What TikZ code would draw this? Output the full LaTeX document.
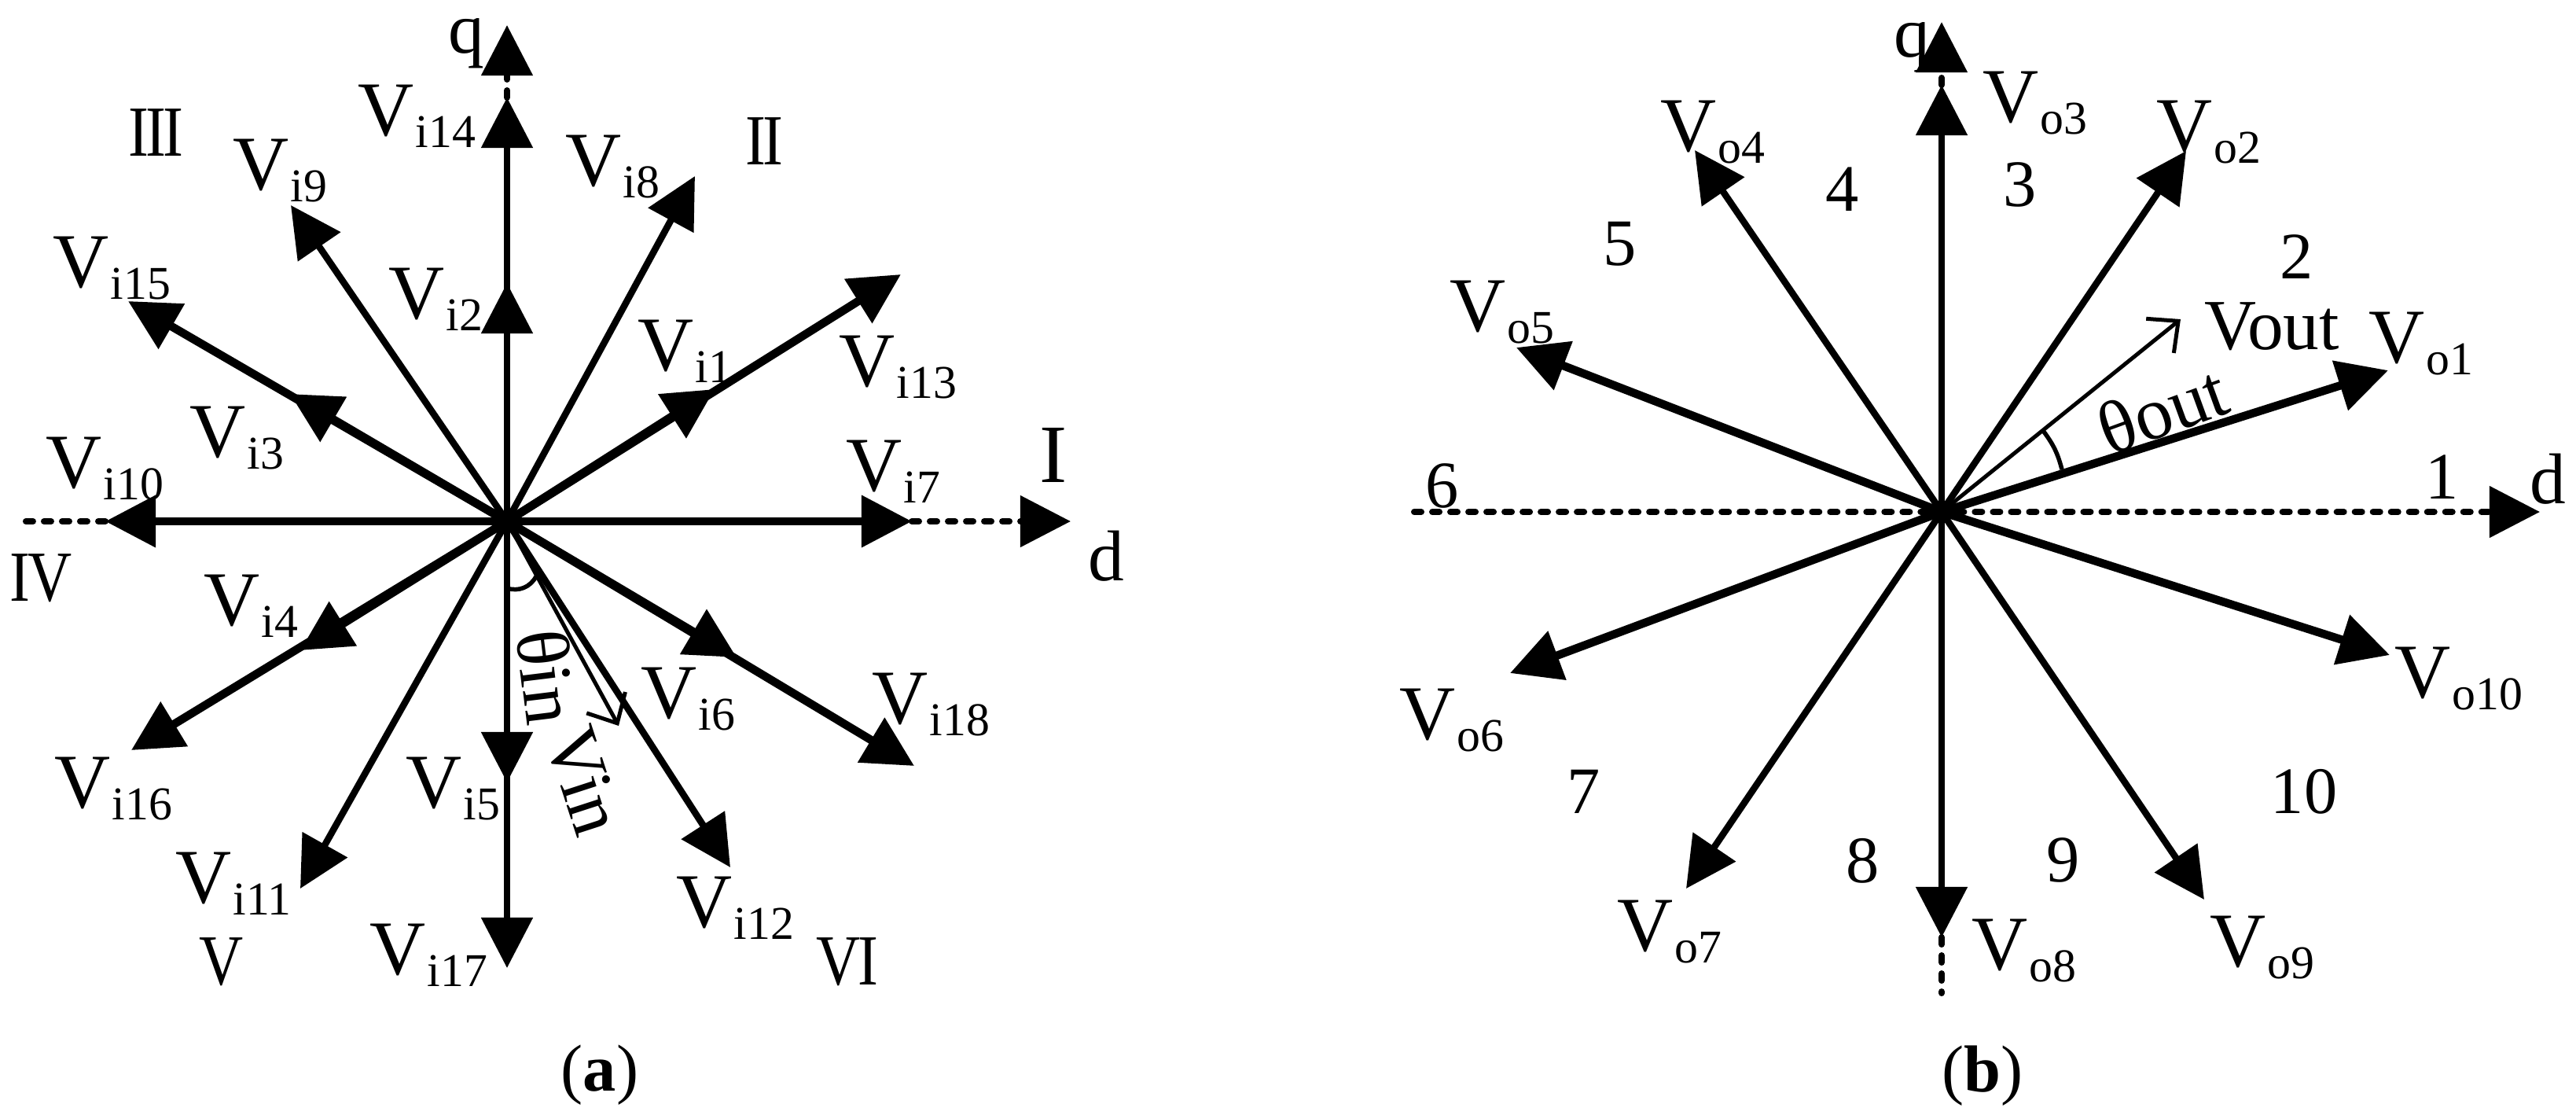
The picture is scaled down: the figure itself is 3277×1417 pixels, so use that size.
\documentclass[tikz,border=0pt]{standalone}
\usepackage{fontspec}
\usepackage{graphicx}
\setmainfont{Liberation Serif}
\usetikzlibrary{arrows.meta}
\newcommand{\vlab}[2]{V\kern0.5pt\raisebox{-4.3pt}{\fontsize{17}{18}\selectfont #1#2}}
\tikzset{
	vec/.style={line width=0.085cm,-{Triangle[length=0.64cm,width=0.64cm]}},
	vecthick/.style={vec,line width=0.105cm},
	vecopen/.style={line width=0.05cm,-{Straight Barb[length=0.3cm,width=0.56cm,line width=0.05cm]}},
	dotaxis/.style={line width=0.08cm,line cap=round,dash pattern=on 0.09cm off 0.14cm},
	dotvec/.style={dotaxis,-{Triangle[length=0.64cm,width=0.64cm]}},
	anglearc/.style={line width=0.055cm},
	vlabel/.style={anchor=base west,inner sep=0pt,font=\fontsize{28}{30}\selectfont},
	sector/.style={anchor=base,inner sep=0pt,font=\fontsize{26}{28}\selectfont\addfontfeature{LetterSpace=-5}},
	zone/.style={anchor=base,inner sep=0pt,font=\fontsize{24}{26}\selectfont},
	axlabel/.style={anchor=base,inner sep=0pt,font=\fontsize{26}{28}\selectfont},
	rotlabel/.style={inner sep=0pt,font=\fontsize{27}{29}\selectfont},
	caption/.style={anchor=base,inner sep=0pt,font=\fontsize{24}{26}\selectfont}
}

\begin{document}
\begin{tikzpicture}[x=0.01cm,y=-0.01cm]
	\useasboundingbox (0,0) rectangle (3277,1417);
	\coordinate (Oa) at (645,663);
	\coordinate (Ob) at (2470,651);
	% 矢量端点
	\foreach \n/\x/\y in {1/909/495, 2/645/360, 3/369/501, 4/382/827, 5/645/995, 6/937/836,
		7/1160/663, 8/884/224, 9/370/261, 10/134/663, 11/382/1130, 12/929/1103,
		13/1146/349, 14/645/124, 15/163/383, 16/167/954, 17/645/1231, 18/1163/974}
	\coordinate (vi\n) at (\x,\y);
	\foreach \n/\x/\y in {1/3038/471, 2/2781/192, 3/2470/108, 4/2156/191, 5/1929/442,
		6/1921/856, 7/2145/1130, 8/2470/1192, 9/2804/1144, 10/3040/833}
	\coordinate (vo\n) at (\x,\y);
	\coordinate (qa) at (645,32);
	\coordinate (da) at (1362,663);
	\coordinate (ea) at (27,663);
	\coordinate (qb) at (2470,28);
	\coordinate (db) at (3231,651);
	\coordinate (eb) at (1799,651);
	\coordinate (sb) at (2470,1263);
	\coordinate (vin) at (787,923);
	\coordinate (vout) at (2774,406);
	% 坐标轴
	\draw[dotvec] (vi14) -- (qa);
	\draw[dotvec] (vi7) -- (da);
	\draw[dotaxis] (vi10) -- (ea);
	\draw[dotvec] (eb) -- (db);
	\draw[dotvec] (vo3) -- (qb);
	\draw[dotaxis] (vo8) -- (sb);
	% 矢量
	\foreach \n in {2,5,8,9,11,12,14,17}
	\draw[vec] (Oa) -- (vi\n);
	\foreach \n in {1,3,4,6,7,10,13,15,16,18}
	\draw[vecthick] (Oa) -- (vi\n);
	\foreach \n in {2,3,4,7,8,9}
	\draw[vec] (Ob) -- (vo\n);
	\foreach \n in {1,5,6,10}
	\draw[vecthick] (Ob) -- (vo\n);
	\draw[vecopen] (Oa) -- (vin);
	\draw[vecopen] (Ob) -- (vout);
	% 夹角
	\coordinate (ina) at (645,748);
	\coordinate (inb) at (682,733);
	\draw[anglearc] (ina) to[bend right=40] (inb);
	\coordinate (outa) at (2623,597);
	\coordinate (outb) at (2600,549);
	\draw[anglearc] (outa) to[bend right=11] (outb);
	% 标签
	\foreach \n/\x/\y in {14/455/172, 8/719/236, 9/296/241, 15/67/365, 2/494/405, 1/811/471,
		13/1067/491, 3/241/581, 10/58/620, 7/1076/624, 4/259/795, 6/815/913,
		18/1109/920, 16/69/1027, 5/516/1027, 11/223/1148, 12/860/1179, 17/470/1239}
	\node[vlabel] (labi\n) at (\x,\y) {\vlab{i}{\n}};
	\foreach \n/\x/\y in {3/2522/155, 4/2112/192, 2/2743/192, 5/1844/421, 1/3013/461,
		10/3046/887, 6/1780/940, 7/2057/1209, 8/2508/1233, 9/2811/1229}
	\node[vlabel] (labo\n) at (\x,\y) {\vlab{o}{\n}};
	\foreach \s/\x/\y/\t in {s2/972/209/II, s3/198/198/III, s4/52/764/IV, s5/282/1252/V, s6/1078/1252/VI}
	\node[sector] (\s) at (\x,\y) {\scalebox{0.85}[1]{\t}};
	\node[sector,font=\fontsize{30}{32}\selectfont] (s1) at (1340,613) {I};
	\foreach \n/\x/\y in {1/3107/634, 2/2922/354, 3/2570/262, 4/2344/268, 5/2061/337,
		6/1835/645, 7/2015/1034, 8/2370/1122, 9/2625/1121, 10/2931/1034}
	\node[zone] (zone\n) at (\x,\y) {\n};
	\node[axlabel] (laqa) at (593,67) {q};
	\node[axlabel] (lada) at (1407,738) {d};
	\node[axlabel] (laqb) at (2432,72) {q};
	\node[axlabel] (ladb) at (3241,640) {d};
	\node[rotlabel,rotate=-83] (thin) at (696,861) {θin};
	\node[rotlabel,rotate=-72] (lavin) at (743,993) {Vin};
	\node[rotlabel,rotate=20] (thout) at (2751,521) {θout};
	\node[vlabel,font=\fontsize{26}{28}\selectfont] (lavout) at (2804,444) {Vout};
	\node[caption] (capa) at (763,1387) {(\textbf{a})};
	\node[caption] (capb) at (2522,1388) {(\textbf{b})};
\end{tikzpicture}
\end{document}
